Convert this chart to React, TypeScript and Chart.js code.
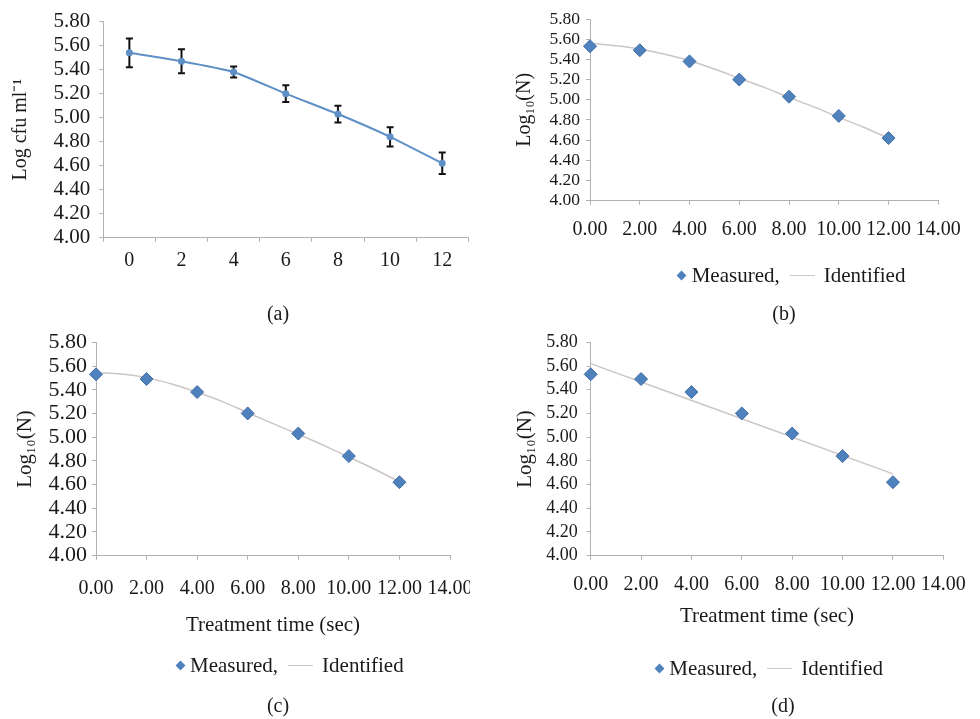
import React, { useEffect, useRef } from "react";
import { Chart, registerables } from "chart.js";

Chart.register(...registerables);

// ---------- data ----------
const timeCategories = ["0", "2", "4", "6", "8", "10", "12"];
const viableCounts = [5.54, 5.47, 5.38, 5.2, 5.03, 4.84, 4.62];
const viableErrors = [0.12, 0.1, 0.045, 0.07, 0.07, 0.08, 0.09];

const measuredTimes = [0, 2, 4, 6, 8, 10, 12];
const measuredLogN = [5.53, 5.49, 5.38, 5.2, 5.03, 4.84, 4.62];

const curveTimes = [0, 1, 2, 3, 4, 5, 6, 7, 8, 9, 10, 11, 12];
const identifiedB = [5.56, 5.536, 5.503, 5.45, 5.387, 5.305, 5.213, 5.123, 5.024, 4.929, 4.826, 4.727, 4.619];
const identifiedC = [5.544, 5.533, 5.502, 5.448, 5.378, 5.3, 5.206, 5.114, 5.024, 4.931, 4.832, 4.731, 4.624];

const lineTimesD = [0, 12];
const identifiedD = [5.62, 4.69];

const yMin = 4;
const yMax = 5.8;
const yStep = 0.2;
const xMin = 0;
const xMax = 14;
const xStep = 2;

const panelLabels = ["(a)", "(b)", "(c)", "(d)"];
const yTitleA = "Log cfu ml\u207B\u00B9";
const yTitleN = "Log\u2081\u2080(N)";
const xTitle = "Treatment time (sec)";
const legendMeasured = "Measured,";
const legendIdentified = "Identified";

// ---------- styles ----------
const FONT = '"Liberation Serif", "Times New Roman", Times, serif';
const TEXT = "#1a1a1a";
const AXIS = "#b2b2b2";
const BLUE = "#4f81bd";
const BLUE_LINE = "#5e8fc6";
const FIT = "#cdc5c5";

type AnyObj = Record<string, any>;

function yAxis(o: { width: number; size: number; pad: number; title: string; titleSize: number; titlePad: number }): AnyObj {
  return {
    type: "linear",
    min: yMin,
    max: yMax,
    ticks: {
      stepSize: yStep,
      autoSkip: false,
      callback: (v: any) => Number(v).toFixed(2),
      font: { family: FONT, size: o.size },
      color: TEXT,
      padding: o.pad,
    },
    grid: { drawOnChartArea: false, drawTicks: true, tickLength: 4, color: AXIS },
    border: { color: AXIS, width: 1 },
    title: {
      display: true,
      text: o.title,
      font: { family: FONT, size: o.titleSize },
      color: TEXT,
      padding: { top: o.titlePad, bottom: 0 },
    },
    afterFit: (s: any) => {
      s.width = o.width;
    },
  };
}

function xLinear(o: { height: number; size: number; pad: number; title?: string; titlePad?: number }): AnyObj {
  return {
    type: "linear",
    min: xMin,
    max: xMax,
    ticks: {
      stepSize: xStep,
      callback: (v: any) => Number(v).toFixed(2),
      font: { family: FONT, size: o.size },
      color: TEXT,
      padding: o.pad,
      maxRotation: 0,
      autoSkip: false,
    },
    grid: { drawOnChartArea: false, drawTicks: true, tickLength: 4, color: AXIS },
    border: { color: AXIS, width: 1 },
    title: o.title
      ? {
          display: true,
          text: o.title,
          font: { family: FONT, size: 21 },
          color: TEXT,
          padding: { top: 0, bottom: o.titlePad ?? 0 },
        }
      : { display: false },
    afterFit: (s: any) => {
      s.height = o.height;
    },
  };
}

const errorBarPlugin = {
  id: "errorBars",
  beforeDatasetsDraw(chart: any) {
    const meta = chart.getDatasetMeta(0);
    const ys = chart.scales.y;
    const ctx = chart.ctx;
    ctx.save();
    ctx.strokeStyle = "#111111";
    ctx.lineWidth = 2;
    meta.data.forEach((pt: any, i: number) => {
      const v = viableCounts[i];
      const e = viableErrors[i];
      const top = ys.getPixelForValue(v + e);
      const bot = ys.getPixelForValue(v - e);
      const x = pt.x;
      ctx.beginPath();
      ctx.moveTo(x, top);
      ctx.lineTo(x, bot);
      ctx.moveTo(x - 3.5, top);
      ctx.lineTo(x + 3.5, top);
      ctx.moveTo(x - 3.5, bot);
      ctx.lineTo(x + 3.5, bot);
      ctx.stroke();
    });
    ctx.restore();
  },
};

function measuredDataset(): AnyObj {
  return {
    label: legendMeasured,
    data: measuredTimes.map((t, i) => ({ x: t, y: measuredLogN[i] })),
    pointStyle: "rectRot",
    pointRadius: 6.5,
    backgroundColor: BLUE,
    borderColor: "#3d6da8",
    borderWidth: 1,
    showLine: false,
    clip: false,
  };
}

function fitDataset(xs: number[], ys: number[]): AnyObj {
  return {
    label: legendIdentified,
    data: xs.map((t, i) => ({ x: t, y: ys[i] })),
    showLine: true,
    pointRadius: 0,
    borderColor: FIT,
    borderWidth: 1.5,
    cubicInterpolationMode: "monotone",
    fill: false,
    clip: false,
  };
}

function baseOptions(padding: AnyObj, scales: AnyObj): AnyObj {
  return {
    responsive: false,
    animation: false,
    devicePixelRatio: 1,
    layout: { padding },
    plugins: { legend: { display: false }, tooltip: { enabled: false } },
    scales,
  };
}

function configA(): AnyObj {
  return {
    type: "line",
    data: {
      labels: timeCategories,
      datasets: [
        {
          label: "Log cfu",
          data: viableCounts,
          borderColor: BLUE_LINE,
          backgroundColor: BLUE_LINE,
          borderWidth: 2,
          pointRadius: 2.5,
          pointStyle: "circle",
          tension: 0.15,
          fill: false,
          clip: false,
        },
      ],
    },
    options: baseOptions(
      { top: 19, right: 21.7, left: 0, bottom: 0 },
      {
        x: {
          type: "category",
          offset: true,
          grid: { offset: true, drawOnChartArea: false, drawTicks: true, tickLength: 4, color: AXIS },
          border: { color: AXIS, width: 1 },
          ticks: { font: { family: FONT, size: 20 }, color: TEXT, padding: 7, maxRotation: 0, autoSkip: false },
          afterFit: (s: any) => {
            s.height = 52.3;
          },
        },
        y: yAxis({ width: 103.3, size: 21, pad: 9, title: yTitleA, titleSize: 20, titlePad: 9 }),
      }
    ),
    plugins: [errorBarPlugin],
  };
}

function configB(): AnyObj {
  return {
    type: "scatter",
    data: { datasets: [measuredDataset(), fitDataset(curveTimes, identifiedB)] },
    options: baseOptions(
      { top: 19, right: 41.7, left: 0, bottom: 39.3 },
      {
        x: xLinear({ height: 50, size: 20, pad: 13 }),
        y: yAxis({ width: 100, size: 17.5, pad: 6, title: yTitleN, titleSize: 20, titlePad: 23 }),
      }
    ),
  };
}

function configC(): AnyObj {
  return {
    type: "scatter",
    data: { datasets: [measuredDataset(), fitDataset(curveTimes, identifiedC)] },
    options: baseOptions(
      { top: 42.3, right: 40, left: 0, bottom: 73.3 },
      {
        x: xLinear({ height: 90, size: 20, pad: 17, title: xTitle, titlePad: 8 }),
        y: yAxis({ width: 96, size: 22, pad: 5, title: yTitleN, titleSize: 21, titlePad: 13 }),
      }
    ),
  };
}

function configD(): AnyObj {
  return {
    type: "scatter",
    data: { datasets: [measuredDataset(), fitDataset(lineTimesD, identifiedD)] },
    options: baseOptions(
      { top: 42.3, right: 36.7, left: 0, bottom: 73.3 },
      {
        x: xLinear({ height: 90, size: 20, pad: 13, title: xTitle, titlePad: 17 }),
        y: yAxis({ width: 100.7, size: 18, pad: 9, title: yTitleN, titleSize: 21, titlePad: 23 }),
      }
    ),
  };
}

function ChartBox(props: { left: number; top: number; width: number; height: number; clip?: number; config: () => AnyObj }) {
  const ref = useRef<HTMLCanvasElement | null>(null);
  useEffect(() => {
    if (!ref.current) return;
    const chart = new Chart(ref.current, props.config() as any);
    return () => chart.destroy();
  }, []);
  const { left, top, width, height, clip } = props;
  return (
    <div style={{ position: "absolute", left, top, width: clip ?? width, height, overflow: "hidden" }}>
      <canvas ref={ref} width={width} height={height} style={{ width, height, display: "block" }} />
    </div>
  );
}

function Label(props: { x: number; y: number; text: string }) {
  return (
    <div
      style={{
        position: "absolute",
        left: props.x,
        top: props.y - 12,
        transform: "translateX(-50%)",
        fontFamily: FONT,
        fontSize: 20,
        lineHeight: "24px",
        color: TEXT,
        whiteSpace: "nowrap",
      }}
    >
      {props.text}
    </div>
  );
}

function Legend(props: { x: number; y: number }) {
  return (
    <div
      style={{
        position: "absolute",
        left: props.x,
        top: props.y - 13,
        height: 26,
        display: "flex",
        alignItems: "center",
        fontFamily: FONT,
        fontSize: 21,
        lineHeight: "26px",
        color: TEXT,
        whiteSpace: "nowrap",
      }}
    >
      <span style={{ width: 10, height: 10, display: "inline-flex", alignItems: "center", justifyContent: "center", marginRight: 5 }}>
        <span style={{ width: 7, height: 7, background: BLUE, transform: "rotate(45deg)", display: "block" }} />
      </span>
      <span>{legendMeasured}</span>
      <span style={{ width: 25, height: 0, borderTop: "1px solid #c9c9c9", marginLeft: 10, marginRight: 9, display: "block" }} />
      <span>{legendIdentified}</span>
    </div>
  );
}

export default function App() {
  return (
    <div style={{ position: "absolute", left: 0, top: 0, width: 980, height: 719, background: "#ffffff", overflow: "hidden" }}>
      <ChartBox left={0} top={0} width={490} height={290} config={configA} />
      <ChartBox left={490} top={0} width={490} height={290} config={configB} />
      <ChartBox left={0} top={300} width={490} height={419} clip={470} config={configC} />
      <ChartBox left={490} top={300} width={490} height={419} config={configD} />
      <Legend x={676.7} y={275} />
      <Legend x={175} y={665} />
      <Legend x={654.3} y={668} />
      <Label x={278} y={313} text={panelLabels[0]} />
      <Label x={784} y={313} text={panelLabels[1]} />
      <Label x={278} y={705} text={panelLabels[2]} />
      <Label x={783} y={705} text={panelLabels[3]} />
    </div>
  );
}
